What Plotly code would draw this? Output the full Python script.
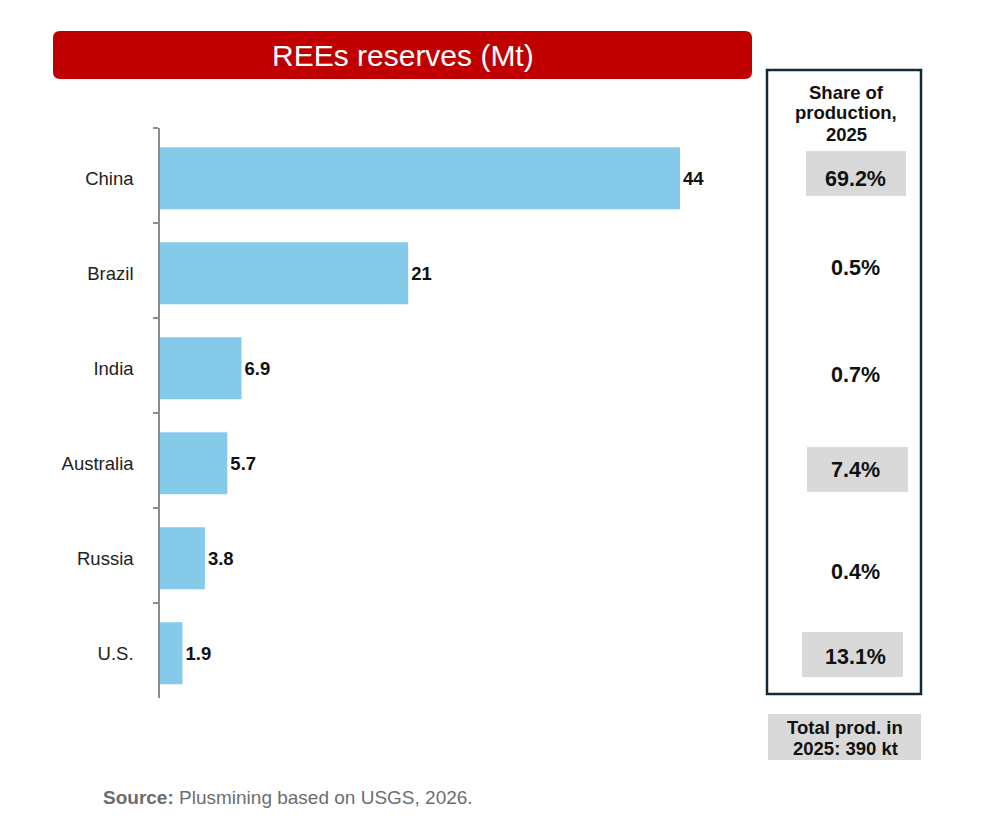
import plotly.graph_objects as go

countries = ["China", "Brazil", "India", "Australia", "Russia", "U.S."]
reserves = [44, 21, 6.9, 5.7, 3.8, 1.9]
reserve_labels = ["44", "21", "6.9", "5.7", "3.8", "1.9"]
shares = ["69.2%", "0.5%", "0.7%", "7.4%", "0.4%", "13.1%"]
highlighted = [True, False, False, True, False, True]
header_lines = ["Share of", "production,", "2025"]
total_lines = ["Total prod. in", "2025: 390 kt"]
title_text = "REEs reserves (Mt)"

FONT = "Liberation Sans, Arial, Helvetica, sans-serif"

# plot area in pixels
L, R, T, B = 160, 750, 128, 698
W, H = R - L, B - T


def px(x):
    return (x - L) / W


def py(y):
    return (B - y) / H


fig = go.Figure()
fig.add_trace(go.Bar(
    y=countries, x=reserves, orientation="h",
    marker=dict(color="#86CAEA", line=dict(width=0)),
    width=0.654, offset=-0.298,
    text=reserve_labels, textposition="outside", cliponaxis=False,
    textfont=dict(family=FONT, size=18.5, color="#111111"),
    texttemplate="<b>%{text}</b>",
    hoverinfo="skip",
))

shapes = []
# title rounded rectangle
x0, x1, y0, y1 = px(53), px(752), py(79), py(31)
rx, ry = 7 / W, 7 / H
path = (f"M {x0+rx},{y0} L {x1-rx},{y0} Q {x1},{y0} {x1},{y0+ry} "
        f"L {x1},{y1-ry} Q {x1},{y1} {x1-rx},{y1} L {x0+rx},{y1} "
        f"Q {x0},{y1} {x0},{y1-ry} L {x0},{y0+ry} Q {x0},{y0} {x0+rx},{y0} Z")
shapes.append(dict(type="path", xref="paper", yref="paper", path=path,
                   fillcolor="#C00000", line=dict(width=0), layer="below"))
# right panel border
shapes.append(dict(type="rect", xref="paper", yref="paper",
                   x0=px(767), x1=px(921), y0=py(694), y1=py(70),
                   line=dict(color="#12293A", width=2.5), fillcolor="rgba(0,0,0,0)"))
# gray highlight boxes
box_px = {0: (806, 906, 151, 196), 3: (807, 908, 447, 492), 5: (802, 903, 632, 677)}
for i, hl in enumerate(highlighted):
    if hl:
        a, b, c, d = box_px[i]
        shapes.append(dict(type="rect", xref="paper", yref="paper",
                           x0=px(a), x1=px(b), y0=py(d), y1=py(c),
                           fillcolor="#D9D9D9", line=dict(width=0), layer="below"))
# total box
shapes.append(dict(type="rect", xref="paper", yref="paper",
                   x0=px(768), x1=px(921), y0=py(760), y1=py(714),
                   fillcolor="#D9D9D9", line=dict(width=0), layer="below"))


def ann(text, x, y, size, color="#111111", xanchor="center"):
    return dict(text=text, xref="paper", yref="paper", x=px(x), y=py(y),
                xanchor=xanchor, yanchor="middle", showarrow=False,
                font=dict(family=FONT, size=size, color=color))


annotations = [ann(title_text, 403, 55, 30, color="white")]
for line, yy in zip(header_lines, [92, 113, 134]):
    annotations.append(ann(f"<b>{line}</b>", 846, yy, 18.5))
for line, yy in zip(total_lines, [727, 748]):
    annotations.append(ann(f"<b>{line}</b>", 845, yy, 18.5))
annotations.append(ann("<b>Source:</b> Plusmining based on USGS, 2026.", 101, 797, 19,
                       color="#6D6D6D", xanchor="left"))
share_y = [179, 268, 375, 470, 572, 657]
for s, yy in zip(shares, share_y):
    annotations.append(ann(f"<b>{s}</b>", 855, yy, 21.5))

fig.update_layout(
    width=1002, height=828,
    margin=dict(l=L, r=1002 - R, t=T, b=828 - B),
    paper_bgcolor="white", plot_bgcolor="white",
    showlegend=False,
    shapes=shapes, annotations=annotations,
    xaxis=dict(range=[0, W / (520 / 44)], visible=False),
    yaxis=dict(autorange=False, range=[5.5, -0.5], type="category",
               showline=True, linecolor="#8C8C8C", linewidth=1.5,
               ticks="outside", ticklen=5, tickcolor="#8C8C8C", tickwidth=1.5,
               tickson="boundaries", showgrid=False, zeroline=False,
               ticklabelstandoff=21, ticklabelshift=-3,
               tickfont=dict(family=FONT, size=18.5, color="#222222")),
)

fig.write_html("out.html")
